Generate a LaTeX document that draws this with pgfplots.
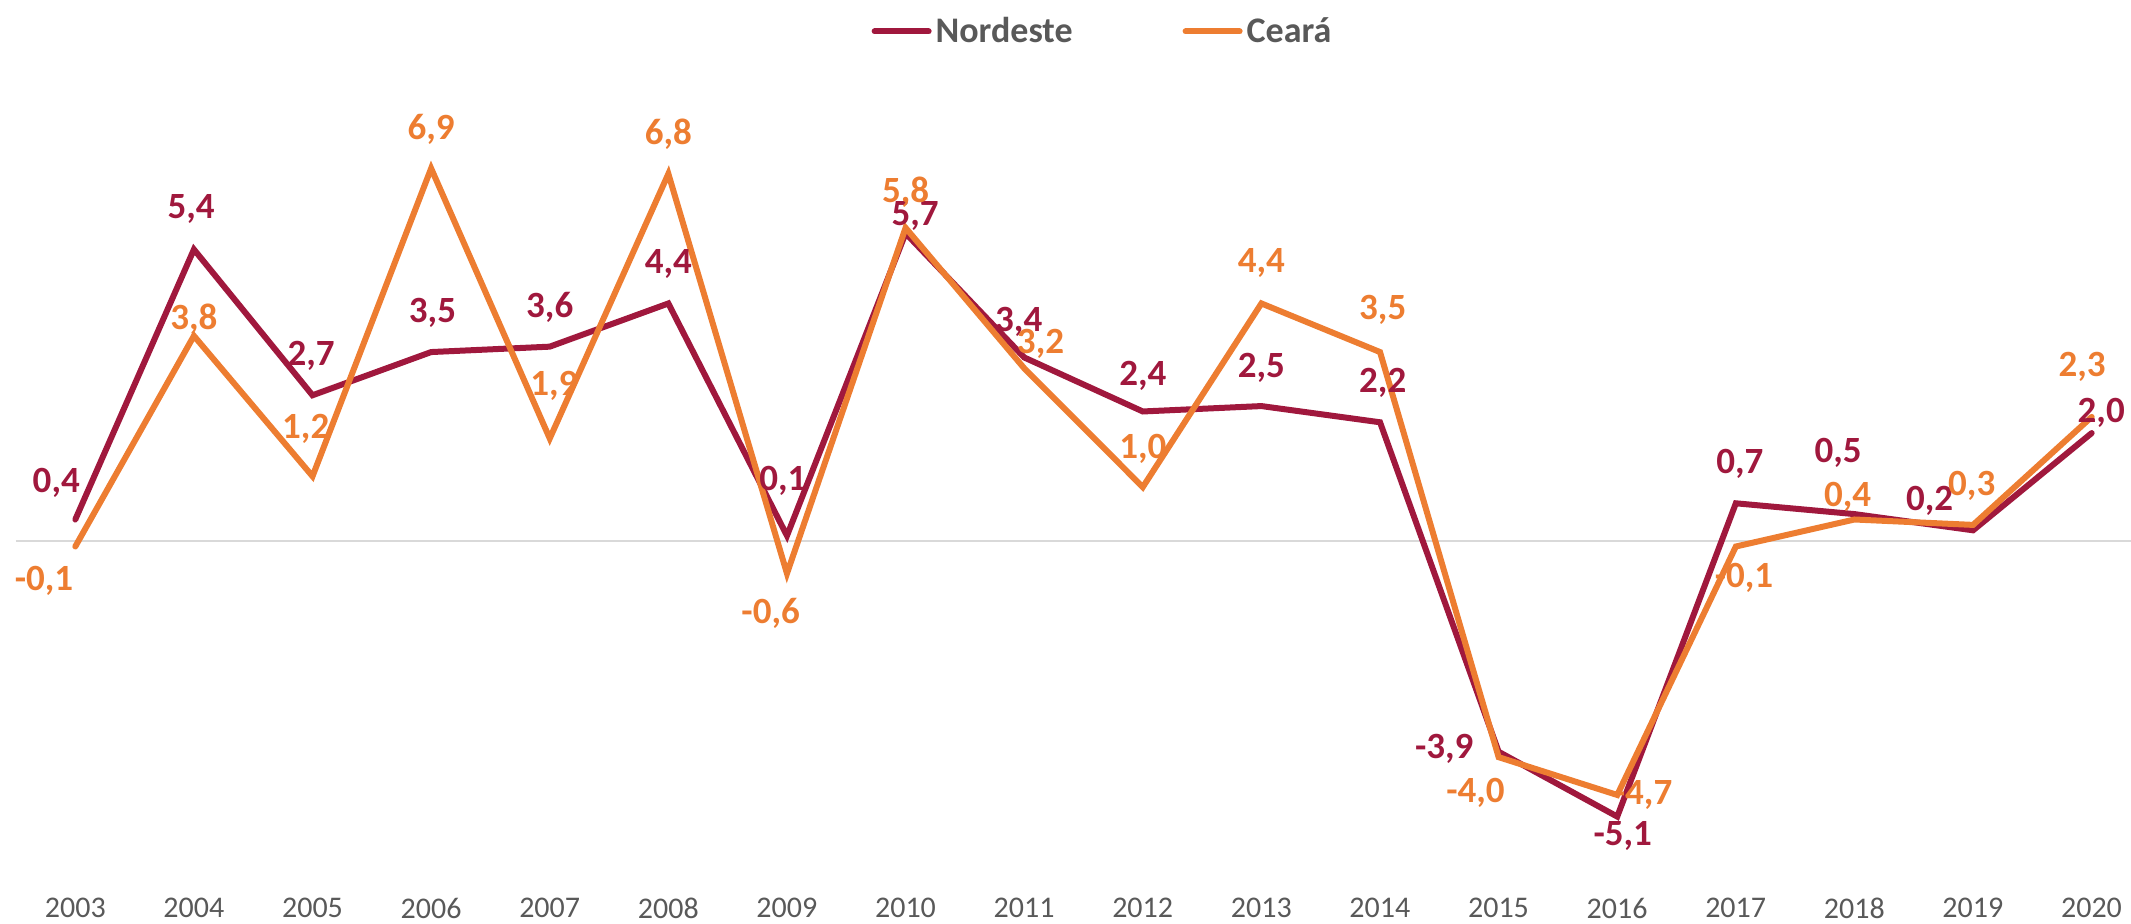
\documentclass[border=0pt]{standalone}
\usepackage{pgfplots}
\pgfplotsset{compat=1.18}
\usepackage{pgfplotstable}
\usepackage{fontspec}
\setmainfont{Carlito}
\definecolor{nord}{HTML}{A0183D}
\definecolor{cear}{HTML}{ED7D31}
\definecolor{txtgray}{HTML}{595959}
\definecolor{zerogray}{HTML}{D9D9D9}

\pgfplotstableread{
year v lab dx dy
2003 0.4 0,4 -14 -27
2004 5.4 5,4 -2 -30
2005 2.7 2,7 -1 -29
2006 3.5 3,5 1 -29
2007 3.6 3,6 0 -29
2008 4.4 4,4 0 -29
2009 0.1 0,1 -3 -40
2010 5.7 5,7 7 -13
2011 3.4 3,4 -4 -26
2012 2.4 2,4 0 -26
2013 2.5 2,5 0 -28
2014 2.2 2,2 2 -29
2015 -3.9 -3,9 -40 -2
2016 -5.1 -5,1 4 14
2017 0.7 0,7 3 -29
2018 0.5 0,5 -12 -45
2019 0.2 0,2 -32 -22
2020 2.0 2,0 7 -15
}\nordtable

\pgfplotstableread{
year v lab dx dy
2003 -0.1 -0,1 -23 25
2004 3.8 3,8 0 -12
2005 1.2 1,2 -5 -35
2006 6.9 6,9 0 -29
2007 1.9 1,9 3 -39
2008 6.8 6,8 0 -29
2009 -0.6 -0,6 -12 29
2010 5.8 5,8 0 -26
2011 3.2 3,2 12 -18
2012 1.0 1,0 0 -28
2013 4.4 4,4 0 -30
2014 3.5 3,5 2 -31
2015 -4.0 -4,0 -17 26
2016 -4.7 -4,7 19 0
2017 -0.1 -0,1 6 23
2018 0.4 0,4 -5 -17
2019 0.3 0,3 -1 -29
2020 2.3 2,3 -7 -37
}\cearatable

\begin{document}
\begin{tikzpicture}
\begin{axis}[
  scale only axis,
  width=1067.5pt, height=397pt,
  xmin=2002.5, xmax=2020.5,
  ymin=-6.2, ymax=8.5,
  clip=false,
  axis line style={draw=none},
  xtick={2003,2004,...,2020},
  ytick=\empty,
  extra y ticks={0},
  extra y tick labels={},
  extra y tick style={grid=major, major grid style={draw=zerogray, line width=1.3pt}, tick style={draw=none}},
  major tick length=0pt,
  xticklabel style={font=\fontsize{15}{16}\selectfont, text=txtgray, yshift=-7.5pt},
  /pgf/number format/1000 sep={},
  /pgf/number format/assume math mode=true,
  legend style={at={(0.5,1)}, anchor=south, yshift=14pt, xshift=10pt, draw=none, fill=none,
    font=\fontsize{18}{20}\selectfont\bfseries, text=txtgray,
    /tikz/every even column/.append style={column sep=53pt}},
  legend columns=2,
  legend image code/.code={\draw[line width=3pt, line cap=round] (0pt,0pt) -- (27pt,0pt);},
  every node near coord/.append style={font=\fontsize{18.5}{20}\selectfont\bfseries, anchor=center},
]
\addplot[color=nord, line width=3pt, line cap=round, nodes near coords, point meta=explicit symbolic,
  visualization depends on={\thisrow{dx} \as \dx},
  visualization depends on={\thisrow{dy} \as \dy},
  every node near coord/.append style={text=nord, xshift={\dx*0.68pt}, yshift={-\dy*0.68pt}}]
  table[x=year, y=v, meta=lab] {\nordtable};
\addlegendentry{Nordeste}
\addplot[color=cear, line width=3pt, line cap=round, nodes near coords, point meta=explicit symbolic,
  visualization depends on={\thisrow{dx} \as \dx},
  visualization depends on={\thisrow{dy} \as \dy},
  every node near coord/.append style={text=cear, xshift={\dx*0.68pt}, yshift={-\dy*0.68pt}}]
  table[x=year, y=v, meta=lab] {\cearatable};
\addlegendentry{Ceará}
\end{axis}
\pgfresetboundingbox
\path[use as bounding box] (-8pt,-24pt) rectangle (1057.5pt,438pt);
\end{tikzpicture}
\end{document}
